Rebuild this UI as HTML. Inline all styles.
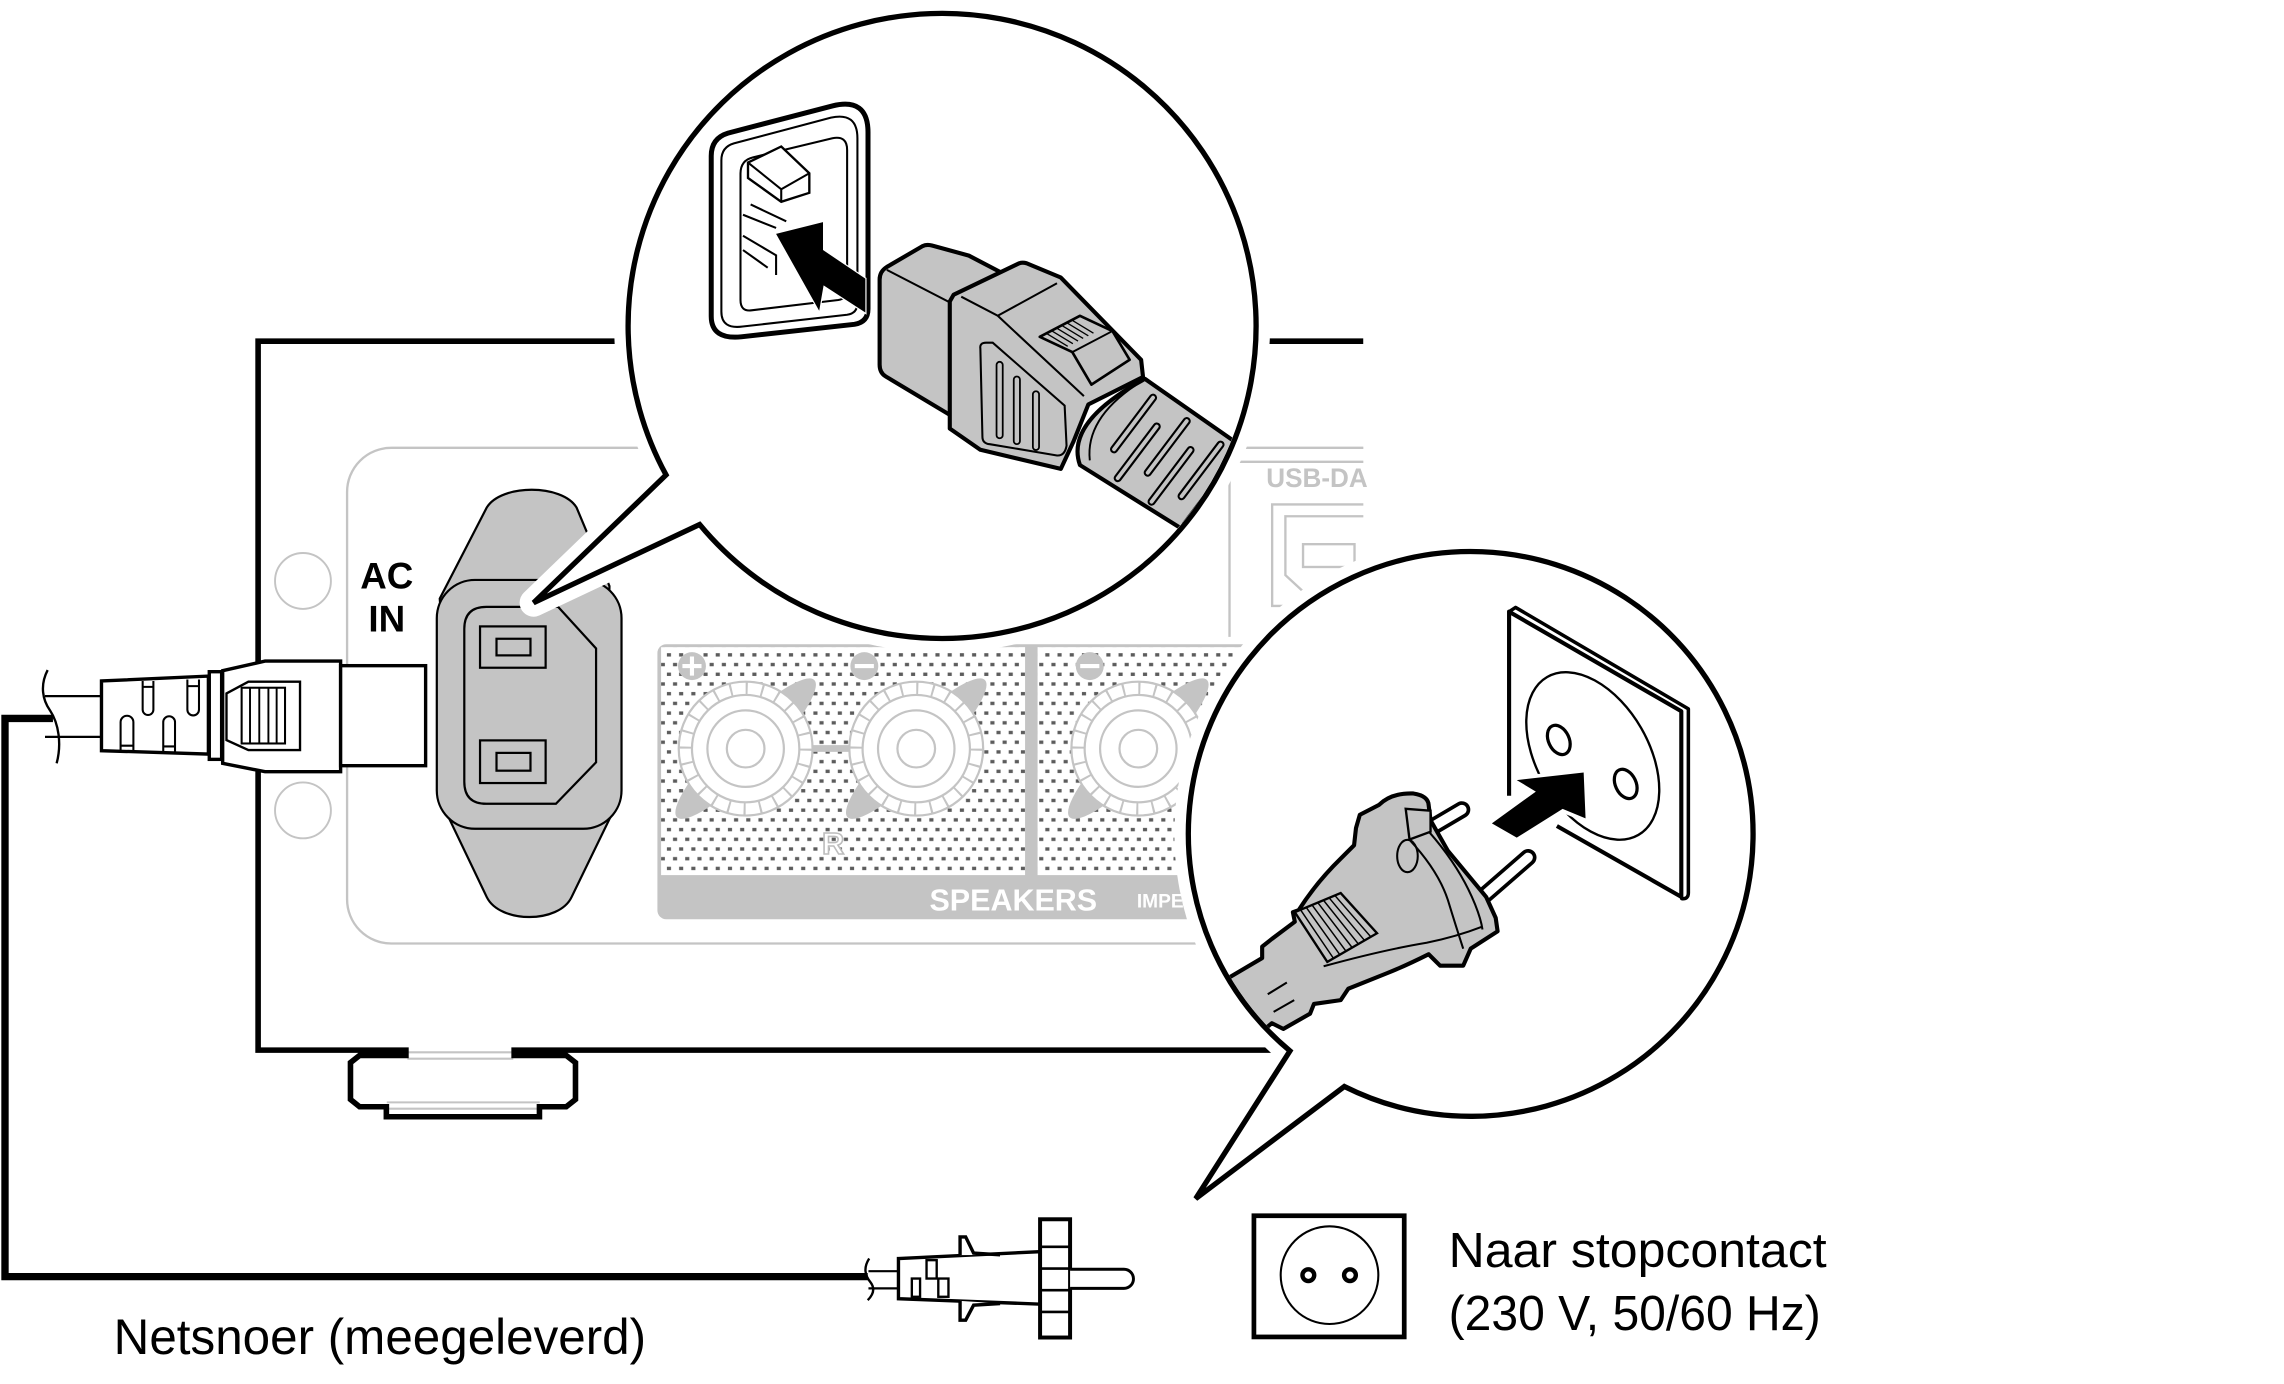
<!DOCTYPE html>
<html><head><meta charset="utf-8">
<style>
html,body{margin:0;padding:0;background:#fff;}
svg{display:block;}
text{font-family:"Liberation Sans",Arial,sans-serif;}
</style></head>
<body>
<svg xmlns="http://www.w3.org/2000/svg" width="2284" height="1384" viewBox="0 0 1553 941" preserveAspectRatio="none">
<defs>
 <pattern id="dots" x="0" y="0" width="8.3" height="13.2" patternUnits="userSpaceOnUse">
   <rect x="1.1" y="1.9" width="2.8" height="2.3" fill="#5c5c5c"/>
   <rect x="5.25" y="8.5" width="2.8" height="2.3" fill="#5c5c5c"/>
 </pattern>
 <clipPath id="dev"><rect x="0" y="0" width="927" height="941"/></clipPath>
 <clipPath id="cL"><ellipse cx="640.5" cy="221.5" rx="211.7" ry="210.7"/></clipPath>
 <clipPath id="cR"><circle cx="1000" cy="567" r="190.2"/></clipPath>
</defs>
<rect x="0" y="0" width="1553" height="941" fill="#fff"/>

<!-- ================= DEVICE ================= -->
<g clip-path="url(#dev)">
  <rect x="236" y="304.5" width="800" height="337" rx="30" fill="none" stroke="#c4c4c4" stroke-width="1.6"/>
  <g fill="none" stroke="#c4c4c4" stroke-width="1.6">
    <path d="M940,314 H842 Q836,314 836,320 V433"/>
    <path d="M940,343 H865 V412 H875"/>
    <path d="M940,351 H874 V391 L887,403"/>
    <rect x="886" y="370" width="35" height="15.5"/>
  </g>
  <!-- speaker panel -->
  <rect x="447" y="438" width="520" height="187" rx="6" fill="#c4c4c4"/>
  <rect x="449.5" y="440" width="247.5" height="155" fill="#fff"/>
  <rect x="449.5" y="440" width="247.5" height="155" fill="url(#dots)"/>
  <rect x="705.5" y="440" width="260" height="155" fill="#fff"/>
  <rect x="705.5" y="440" width="260" height="155" fill="url(#dots)"/>
  <rect x="550" y="506.6" width="30" height="4.6" fill="#c4c4c4"/>
  <g fill="#c4c4c4">
    <ellipse cx="507" cy="509" rx="66" ry="14.5" transform="rotate(-45 507 509)"/>
    <ellipse cx="623" cy="509" rx="66" ry="14.5" transform="rotate(-45 623 509)"/>
    <ellipse cx="774" cy="509" rx="66" ry="14.5" transform="rotate(-45 774 509)"/>
  </g>
  <g fill="#fff" stroke="#c4c4c4" stroke-width="1.5">
    <circle cx="507" cy="509" r="45.5"/>
    <circle cx="623" cy="509" r="45.5"/>
    <circle cx="774" cy="509" r="45.5"/>
  </g>
  <g fill="none" stroke="#c4c4c4" stroke-width="9" stroke-dasharray="1.4 9.33">
    <circle cx="507" cy="509" r="41"/>
    <circle cx="623" cy="509" r="41"/>
    <circle cx="774" cy="509" r="41"/>
  </g>
  <g fill="none" stroke="#c4c4c4" stroke-width="1.5">
    <circle cx="507" cy="509" r="36.5"/><circle cx="507" cy="509" r="26"/><circle cx="507" cy="509" r="12.8"/>
    <circle cx="623" cy="509" r="36.5"/><circle cx="623" cy="509" r="26"/><circle cx="623" cy="509" r="12.8"/>
    <circle cx="774" cy="509" r="36.5"/><circle cx="774" cy="509" r="26"/><circle cx="774" cy="509" r="12.8"/>
  </g>
  <g fill="#c4c4c4">
    <circle cx="470.5" cy="452.9" r="9.5"/>
    <circle cx="587.7" cy="452.9" r="9.5"/>
    <circle cx="741" cy="452.9" r="9.5"/>
  </g>
  <g stroke="#fff" stroke-width="2.8">
    <path d="M464,452.9 H477 M470.5,446.4 V459.4"/>
    <path d="M581.2,452.9 H594.2"/>
    <path d="M734.5,452.9 H747.5"/>
  </g>
  <text x="566.5" y="580.5" font-size="21" font-weight="bold" text-anchor="middle" fill="#fff" stroke="#bdbdbd" stroke-width="1.1">R</text>
  <text x="632" y="619" font-size="21" font-weight="bold" fill="#fff" textLength="114" lengthAdjust="spacingAndGlyphs">SPEAKERS</text>
  <text x="773" y="617" font-size="13" font-weight="bold" fill="#fff">IMPEDANCE</text>

  <circle cx="206" cy="395" r="19" fill="none" stroke="#c4c4c4" stroke-width="1.3"/>
  <circle cx="206" cy="551" r="19" fill="none" stroke="#c4c4c4" stroke-width="1.3"/>
  <text x="263" y="400" font-size="25" font-weight="bold" text-anchor="middle" fill="#000">AC</text>
  <text x="263" y="429.5" font-size="25" font-weight="bold" text-anchor="middle" fill="#000">IN</text>

  <!-- AC inlet socket -->
  <g fill="#c4c4c4" stroke="#000" stroke-width="1.5">
    <path d="M299,407 L331,345 C341,329 382,329 392,345 L414.4,398.5 L414,420 L300,420 Z"/>
    <path d="M302,549.4 L331,610 C340,628 380,628 388.6,610 L416,553.6 L414,540 L304,540 Z"/>
    <rect x="297" y="394.3" width="125.6" height="169.2" rx="26"/>
  </g>
  <g fill="none" stroke="#000" stroke-width="1.5">
    <path d="M330.7,412.6 L379.5,412.6 L405.3,440.9 L405.3,518.3 L378,546.5 L330.7,546.5 Q315.7,546.5 315.7,531.5 L315.7,427.6 Q315.7,412.6 330.7,412.6 Z"/>
    <rect x="326.4" y="425.9" width="44.6" height="28.1"/>
    <rect x="337.6" y="434.3" width="23.1" height="11.3"/>
    <rect x="326.4" y="503.4" width="44.6" height="29"/>
    <rect x="337.6" y="511.9" width="23.1" height="12.1"/>
  </g>

  <g stroke="#c4c4c4" stroke-width="1.4">
    <path d="M277,715.5 H349"/>
    <path d="M277,719.8 H349"/>
    <path d="M263,749.5 H367"/>
    <path d="M263,753.8 H367"/>
  </g>
  <path d="M927,232 H175.5 V714 H276 V717.6 H244.5 L238.3,722.5 V747.5 L244.5,752.5 H262.7 V759.3 H366.8 V752.5 H385 L391.3,747.5 V722.5 L385,717.6 H349.6 V714 H927"
        fill="none" stroke="#000" stroke-width="3.8" stroke-linejoin="miter"/>
</g>
<text x="861" y="331" font-size="18" font-weight="bold" fill="#c4c4c4" textLength="69" lengthAdjust="spacingAndGlyphs">USB-DA</text>

<!-- ================= CORD ================= -->
<path d="M36,488.5 H3.4 V868 H590" fill="none" stroke="#000" stroke-width="5" stroke-linejoin="miter"/>

<!-- left plug -->
<g stroke="#000" fill="#fff">
  <path d="M30.6,473.3 H69 M30.6,501 H69" stroke-width="1.5" fill="none"/>
  <path d="M32.4,455.6 C27,466 29,476 34,483 C40,492 42,506 38.5,519" stroke-width="1.6" fill="none"/>
  <path d="M69,463 L141.7,459.7 L141.7,512.7 L69,510.4 Z" stroke-width="2.3"/>
  <g fill="none" stroke-width="1.4">
    <path d="M97,463 V482.5 A3.65,3.65 0 0 0 104.3,482.5 V463 M97,467 H104.3"/>
    <path d="M127.4,462 V482.5 A3.95,3.95 0 0 0 135.3,482.5 V462 M127.4,466.5 H135.3"/>
    <path d="M82,510.4 V491 A4.35,4.35 0 0 1 90.7,491 V510.4 M82,507 H90.7"/>
    <path d="M111,511 V491 A4,4 0 0 1 119,491 V511 M111,507.5 H119"/>
  </g>
  <rect x="142.3" y="456.7" width="8.4" height="59.6" stroke-width="2.3"/>
  <path d="M151.4,456 L180.2,449.5 H231.6 V524.7 H180.2 L151.4,519 Z" stroke-width="2.3"/>
  <path d="M154,471.5 L168.9,463.5 H204 V510 H168.9 L154,503.2 Z" stroke-width="1.6"/>
  <rect x="164.3" y="467.6" width="29.5" height="37.9" stroke-width="1.4"/>
  <path d="M170,467.6 V505.5 M176.3,467.6 V505.5 M182.5,467.6 V505.5 M188.1,467.6 V505.5" stroke-width="1.3" fill="none"/>
  <rect x="231.6" y="452.6" width="57.8" height="68" stroke-width="2.3"/>
</g>

<!-- bottom plug -->
<g stroke="#000" fill="#fff">
  <path d="M590.5,864.3 H611 M590.5,876 H611" stroke-width="1.5" fill="none"/>
  <path d="M591,855.7 C587,862 588,867 592,872 C595,876 594,880 590,884" stroke-width="1.6" fill="none"/>
  <path d="M610.9,855.7 L707.2,851 V886.7 L610.9,883 Z" stroke-width="2.3"/>
  <path d="M652.8,853.4 V841 H656.6 L662,852 L680,853.2" stroke-width="2.3" fill="#fff"/>
  <path d="M652.8,884.5 V897.6 H656.6 L662,887.4 L680,886.3" stroke-width="2.3" fill="#fff"/>
  <g fill="none" stroke-width="1.6">
    <rect x="630" y="856.8" width="6.9" height="12.5"/>
    <rect x="620" y="869.3" width="5.6" height="12.4"/>
    <rect x="638" y="869.3" width="6.9" height="12.4"/>
  </g>
  <rect x="707.2" y="829" width="20.4" height="80.4" stroke-width="2.7"/>
  <path d="M707.2,847.7 H727.6 M707.2,862.5 H727.6 M707.2,877.2 H727.6 M707.2,892 H727.6" stroke-width="1.8" fill="none"/>
  <path d="M727.6,863 H764.2 A6.5,6.5 0 0 1 764.2,876 H727.6" stroke-width="2"/>
</g>

<!-- ================= LEFT CALLOUT ================= -->
<path d="M475.7,356.6 A213.5,212.5 0 1 0 452.9,322.9 L362.8,409.8 Z" fill="#fff" stroke="#fff" stroke-width="19" stroke-linejoin="round"/>
<path d="M475.7,356.6 A213.5,212.5 0 1 0 452.9,322.9 L362.8,409.8 Z" fill="#fff" stroke="#000" stroke-width="3.6" stroke-linejoin="miter"/>
<g clip-path="url(#cL)">
  <!-- outlet -->
  <path d="M483.6,106 Q483.6,94 495,90.5 L566,72 Q590.2,66 590.2,90 L590.2,210 Q590.2,219 581,220.5 L504,229 Q483.6,231 483.6,215 Z" fill="#fff" stroke="#000" stroke-width="3.4"/>
  <path d="M490.5,109 Q490.5,100 499,97.5 L565,80 Q583,76 583,94 L583,206 Q583,213 576,214 L505,222 Q490.5,224 490.5,212 Z" fill="none" stroke="#000" stroke-width="1.4"/>
  <path d="M503.5,118 Q503.5,109 512,107 L566,94 Q576,92 576,102 L576,197 Q576,203 570,204 L511,211 Q503.5,212 503.5,204 Z" fill="#fff" stroke="#000" stroke-width="1.4"/>
  <path d="M508.6,110.5 L531.2,99.6 L550.3,117.8 L550.3,131.1 L531.2,137.2 L508.6,121 Z" fill="#fff" stroke="#000" stroke-width="1.6"/>
  <path d="M508.6,110.5 L531.2,128.7 L550.3,117.8 M531.2,128.7 V137.2" fill="none" stroke="#000" stroke-width="1.4"/>
  <path d="M510.4,139 L534.6,150.5 M505.2,146 L527.7,155 M505.2,160.3 L527.7,173.6 V187 M505.2,170 L522,182" fill="none" stroke="#000" stroke-width="1.4"/>
  <path d="M527.7,159 L559.6,151 L559.6,170 L588.4,189.4 L588.4,212.5 L560,194 L557,211.3 Z" fill="#000" stroke="#fff" stroke-width="1.6" paint-order="stroke"/>
  <!-- IEC plug head -->
  <path d="M598.1,190 Q598.1,184.6 603,181.5 L627,167.5 Q630.1,165.8 634,167 L658.8,173.8 L682.1,186 L682.1,262 L647.4,283 L602.3,256 Q598.1,253.5 598.1,248 Z" fill="#c4c4c4" stroke="#000" stroke-width="2.8" stroke-linejoin="round"/>
  <path d="M603,183.5 L645.8,205.6 V281" fill="none" stroke="#000" stroke-width="1.4"/>
  <!-- body -->
  <path d="M648.4,200.4 L693,179 Q695.3,178.2 698,179 L721.3,188.7 L775.9,244.6 L777.2,256.3 L740,275 L730,300 L721.3,318.8 L666.6,305.8 L645.8,291.4 L645.8,205 Z" fill="#c4c4c4" stroke="#000" stroke-width="2.8" stroke-linejoin="round"/>
  <path d="M653.6,201.7 L678.4,214.7 L737,269.3 M678.4,214.7 L718.7,192.6" fill="none" stroke="#000" stroke-width="1.4"/>
  <path d="M666.6,237 Q666,233 670.5,233 L675,233 L723.9,275.8 L725.2,303 Q724,310 718.7,309.7 L673,302 Q668,301.5 668,297 Z" fill="none" stroke="#000" stroke-width="1.4"/>
  <g fill="none" stroke="#000" stroke-width="1.2">
    <rect x="677.6" y="246" width="4.2" height="52" rx="2.1"/>
    <rect x="689.3" y="256" width="4.2" height="46" rx="2.1"/>
    <rect x="702.3" y="266" width="4.2" height="40" rx="2.1"/>
  </g>
  <!-- latch -->
  <path d="M707,229 L734.3,214.7 L756.4,225.1 L768.1,244.6 L742.1,261.5 L729.1,239.4 Z" fill="#c4c4c4" stroke="#000" stroke-width="1.8" stroke-linejoin="round"/>
  <path d="M729.1,239.4 L756.4,225.1" fill="none" stroke="#000" stroke-width="1.3"/>
  <path d="M712,227 L726,235.5 M715.5,225.2 L729.5,233.7 M719,223.4 L733,231.9 M722.5,221.6 L736.5,230.1 M726,219.8 L740,228.3 M729.5,218 L743.5,226.5" fill="none" stroke="#000" stroke-width="0.9"/>
  <!-- cable -->
  <path d="M778.5,257.6 L875,325 L833,378 L734.3,316.2 Q724,287 778.5,257.6 Z" fill="#c4c4c4" stroke="#000" stroke-width="2.8" stroke-linejoin="round"/>
  <path d="M772,262 Q738,285 741,313" fill="none" stroke="#000" stroke-width="1.3"/>
  <g stroke-linecap="round" fill="none">
    <g stroke="#000" stroke-width="5.5">
      <path d="M784,270.4 L757.5,305.5"/>
      <path d="M786.5,290 L760,325.1"/>
      <path d="M806.9,286.3 L780.4,321.4"/>
      <path d="M809.5,306 L783,341.1"/>
      <path d="M829.9,302.3 L803.4,337.4"/>
      <path d="M832.5,322 L806,357.1"/>
    </g>
    <g stroke="#c4c4c4" stroke-width="2.6">
      <path d="M784,270.4 L757.5,305.5"/>
      <path d="M786.5,290 L760,325.1"/>
      <path d="M806.9,286.3 L780.4,321.4"/>
      <path d="M809.5,306 L783,341.1"/>
      <path d="M829.9,302.3 L803.4,337.4"/>
      <path d="M832.5,322 L806,357.1"/>
    </g>
  </g>
</g>

<!-- ================= RIGHT CALLOUT ================= -->
<path d="M914.1,738.7 A192,192 0 1 0 877.1,714.5 L813,815 Z" fill="#fff" stroke="#fff" stroke-width="19" stroke-linejoin="round"/>
<path d="M914.1,738.7 A192,192 0 1 0 877.1,714.5 L813,815 Z" fill="#fff" stroke="#000" stroke-width="3.6" stroke-linejoin="miter"/>
<g clip-path="url(#cR)">
  <path d="M1026.1,415.9 L1030.5,413 L1148,482 L1148,607 Q1148,611.5 1143.5,611 L1143.2,609.8 Z" fill="#fff" stroke="#000" stroke-width="2.4" stroke-linejoin="round"/>
  <path d="M1026.1,541 L1026.1,415.9 L1143.2,483.6 L1143.2,609.8 L1058.6,561.6" fill="#fff" stroke="#000" stroke-width="2.8" stroke-linejoin="round"/>
  <ellipse cx="1083" cy="514" rx="38" ry="62" transform="rotate(-30 1083 514)" fill="none" stroke="#000" stroke-width="1.6"/>
  <ellipse cx="1059.9" cy="503.1" rx="7" ry="10.5" transform="rotate(-25 1059.9 503.1)" fill="#fff" stroke="#000" stroke-width="2.2"/>
  <ellipse cx="1105.4" cy="533" rx="7" ry="10.5" transform="rotate(-25 1105.4 533)" fill="#fff" stroke="#000" stroke-width="2.2"/>
  <path d="M1031.3,530.4 L1076.8,525.2 L1078.1,556.4 L1062.5,550 L1031.3,569.5 L1014.4,559.8 L1044.3,538.2 Z" fill="#000" stroke="#fff" stroke-width="5" paint-order="stroke" stroke-linejoin="round"/>
  <g stroke-linecap="round">
    <path d="M966,567 L994,550.5" stroke="#000" stroke-width="11.5"/>
    <path d="M966,567 L994,550.5" stroke="#fff" stroke-width="6.5"/>
    <path d="M1008,610 L1039,583" stroke="#000" stroke-width="11.5"/>
    <path d="M1008,610 L1039,583" stroke="#fff" stroke-width="6.5"/>
  </g>
  <path d="M830,668 L858.2,651.4 L858.2,643.6 L864.8,638.4 L880.4,626.7 L879.1,620.2 L883,618.9 Q895,600 911.6,583.8 L920.7,574.7 L922,563 L924.6,554 L937.6,547.3 Q946,539 961,539.5 Q971,541 971.4,547.3 L972.7,557.7 L984.5,578.5 L1010.5,609.8 L1017,624.1 L1018.3,633.2 L1000,645 L994.9,656.6 L979.2,656.6 L971.4,648.8 Q955,657 942.8,661.8 L916.8,672.2 L911.6,680 L893.4,682.6 L890.8,689.2 L872.6,699.6 L864.8,695.7 L845,712 Z" fill="#c4c4c4" stroke="#000" stroke-width="2.8" stroke-linejoin="round"/>
  <path d="M955.8,549.9 L972.7,551.2 L972.7,565.5 L958.4,570.8 Z" fill="#c4c4c4" stroke="#000" stroke-width="1.6"/>
  <ellipse cx="957" cy="582" rx="7" ry="11" fill="#c4c4c4" stroke="#000" stroke-width="1.4"/>
  <path d="M958.4,571 Q978,592 984.5,612 Q990,630 994.9,645" fill="none" stroke="#000" stroke-width="1.4"/>
  <path d="M972,566 Q993,590 1003,615 Q1007,625 1008,632" fill="none" stroke="#000" stroke-width="1.4"/>
  <path d="M900,657 Q940,646 970,641 Q990,637 1008,630" fill="none" stroke="#000" stroke-width="1.4"/>
  <path d="M862,676 L875,668 M866,688 L880,680" fill="none" stroke="#000" stroke-width="1.4"/>
  <path d="M880.4,620.2 L911.6,607.2 L936.3,634.5 L902.5,654 Z" fill="#c4c4c4" stroke="#000" stroke-width="1.6"/>
  <path d="M884.3,618.6 L906.7,651.6 M888.2,617 L911,649.1 M892.1,615.3 L915.2,646.7 M896,613.7 L919.4,644.3 M899.9,612.1 L923.6,641.8 M903.8,610.5 L927.8,639.4 M907.7,608.9 L932.1,637" fill="none" stroke="#000" stroke-width="1"/>
</g>

<!-- ================= LABELS ================= -->
<rect x="852.6" y="826.6" width="102.2" height="82.4" fill="none" stroke="#000" stroke-width="3.2"/>
<circle cx="904" cy="867" r="33.2" fill="none" stroke="#000" stroke-width="1.4"/>
<circle cx="889.6" cy="867" r="4" fill="none" stroke="#000" stroke-width="3"/>
<circle cx="917.9" cy="867" r="4" fill="none" stroke="#000" stroke-width="3"/>

<text x="985" y="861.3" font-size="33.5" fill="#000" textLength="257" lengthAdjust="spacingAndGlyphs">Naar stopcontact</text>
<text x="985" y="904.4" font-size="33.5" fill="#000" textLength="253" lengthAdjust="spacingAndGlyphs">(230 V, 50/60 Hz)</text>
<text x="77.3" y="920.7" font-size="34" fill="#000" textLength="362" lengthAdjust="spacingAndGlyphs">Netsnoer (meegeleverd)</text>
</svg>
</body>
</html>
